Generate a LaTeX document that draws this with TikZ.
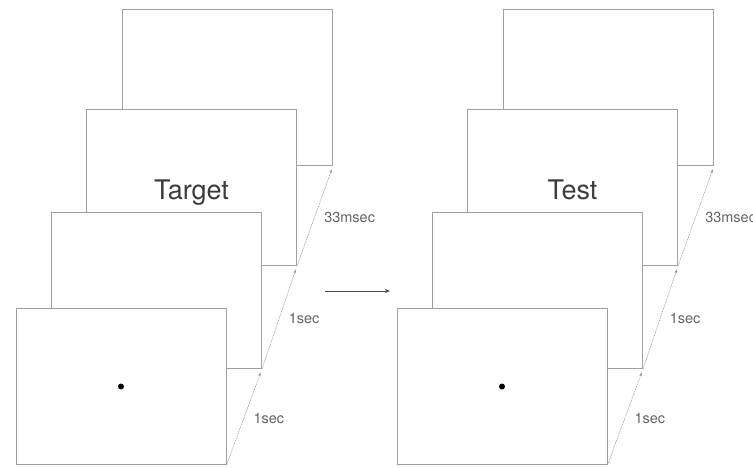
\documentclass[tikz,border=0pt]{standalone}
\usepackage{fontspec}
\setmainfont{TeX Gyre Heros}
\usetikzlibrary{arrows.meta}
\definecolor{framegray}{RGB}{160,160,160}
\definecolor{linegray}{RGB}{150,150,150}
\definecolor{textgray}{RGB}{60,60,60}
\definecolor{labelgray}{RGB}{100,100,100}
\begin{document}
\begin{tikzpicture}[x=1pt,y=-1pt,
  screen/.style={draw=framegray, line width=1pt, fill=white,
    minimum width=210pt, minimum height=156pt, inner sep=0pt},
  timeline/.style={draw=linegray, line width=0.5pt, dash pattern=on 1.6pt off 0.9pt,
    -{Stealth[length=4pt,width=2.6pt]}, shorten >=3.5pt},
  lbl/.style={text=labelgray, font=\fontsize{14.5}{16}\selectfont, inner sep=0pt,
    anchor=west, xshift=9pt, yshift=-1pt},
  word/.style={text=textgray, font=\fontsize{27}{30}\selectfont, inner sep=0pt, anchor=base},
  fixation/.style={circle, fill=black, inner sep=0pt, minimum size=6pt},
  flow/.style={draw=black!70, line width=0.8pt, -{Stealth[length=5pt,width=4pt]}}]
\useasboundingbox (0,0) rectangle (753,467);

% two stacks of screens, drawn back to front
\foreach \g/\dx/\word in {L/0/Target, R/381/Test}{
  \node[screen] (\g4) at (227.5+\dx, 87.5)  {};
  \node[screen] (\g3) at (191.5+\dx, 187.5) {};
  \node[screen] (\g2) at (156.5+\dx, 290.5) {};
  \node[screen] (\g1) at (121+\dx,   386.5) {};
  \node[word] (\g w) at ([yshift=-11.5pt]\g3.center) {\word};
  \node[fixation] (\g dot) at (\g1.center) {};
  % time axis along the lower right corners
  \draw[timeline] (\g1.south east) -- node[lbl] (\g t1) {1sec} (\g2.south east);
  \draw[timeline] (\g2.south east) -- node[lbl] (\g t2) {1sec} (\g3.south east);
  \draw[timeline] (\g3.south east) -- node[lbl] (\g t3) {33msec} (\g4.south east);
}

% sequence arrow between the two trials
\coordinate (from) at (325,291);
\coordinate (to) at (390,291);
\draw[flow] (from) -- (to);
\end{tikzpicture}
\end{document}
